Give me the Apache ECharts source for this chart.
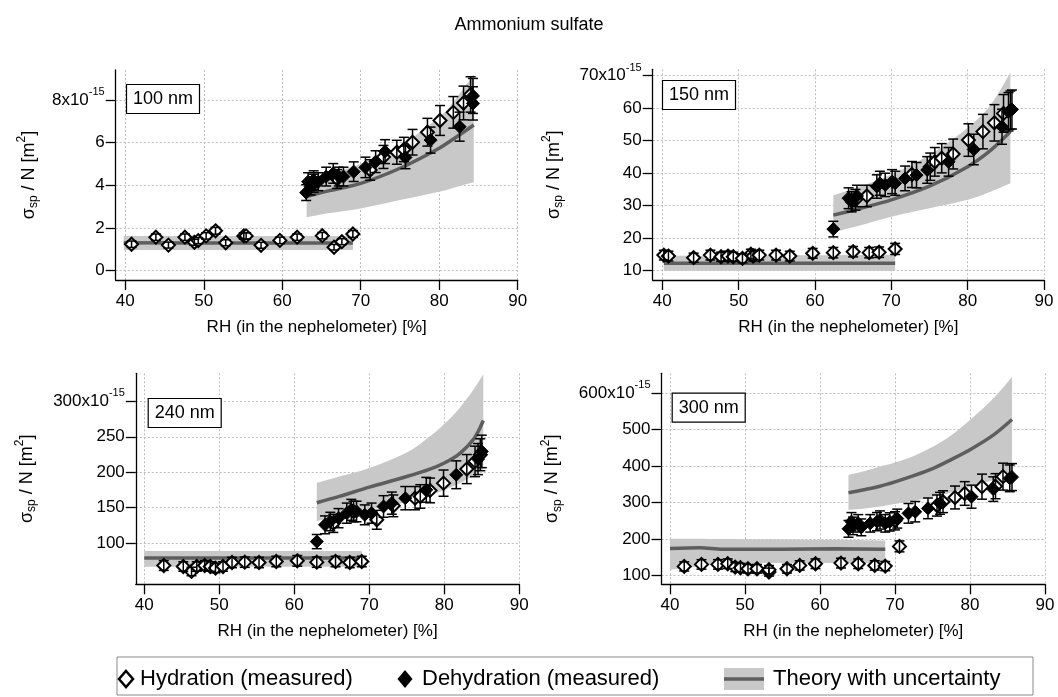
<!DOCTYPE html>
<html><head><meta charset="utf-8">
<script src="https://cdn.jsdelivr.net/npm/echarts@6/dist/echarts.min.js"></script>
<style>html,body{margin:0;padding:0;background:#fff}#c{width:1058px;height:697px}</style>
</head><body><div id="c"></div>
<script>
// ================= DATA =================
const xTicks = [40, 50, 60, 70, 80, 90];
const panelLabels = ['100 nm', '150 nm', '240 nm', '300 nm'];

// ---- 100 nm ----
const p100_yTicks = [0, 2, 4, 6, 8];
const p100_hydX = [40.8, 43.9, 45.5, 47.6, 48.8, 49.3, 50.3, 51.5, 52.8, 55.1, 55.4, 57.3, 59.7, 61.9, 65.1, 66.6, 67.6, 69.0, 64.0, 67.0, 71.2, 72.9, 74.6, 75.5, 76.6, 78.5, 80.1, 81.8, 83.1, 84.0];
const p100_hydY = [1.24, 1.57, 1.20, 1.57, 1.33, 1.41, 1.63, 1.87, 1.31, 1.63, 1.63, 1.19, 1.42, 1.57, 1.64, 1.10, 1.36, 1.72, 4.10, 4.30, 4.72, 5.33, 5.55, 5.68, 6.02, 6.49, 7.04, 7.42, 7.86, 8.26];
const p100_hydErr = [0.15, 0.15, 0.14, 0.15, 0.14, 0.14, 0.15, 0.16, 0.14, 0.15, 0.15, 0.14, 0.15, 0.15, 0.15, 0.13, 0.14, 0.16, 0.42, 0.44, 0.48, 0.54, 0.56, 0.57, 0.60, 0.65, 0.70, 0.74, 0.79, 0.83];
const p100_dehX = [63.05, 63.3, 63.6, 64.0, 64.6, 65.6, 66.5, 67.2, 67.8, 69.1, 70.6, 71.9, 73.1, 75.7, 78.9, 82.6, 84.3, 84.3];
const p100_dehY = [3.66, 4.17, 3.95, 4.25, 4.17, 4.41, 4.56, 4.41, 4.41, 4.64, 4.84, 5.11, 5.58, 5.31, 6.12, 6.75, 8.19, 7.84];
const p100_dehErr = [0.37, 0.42, 0.40, 0.43, 0.42, 0.44, 0.46, 0.44, 0.44, 0.46, 0.48, 0.51, 0.56, 0.53, 0.61, 0.68, 0.82, 0.78];
const p100_thLoX = [39.8, 55.0, 69.0];
const p100_thLoMid = [1.31, 1.30, 1.30];
const p100_thLoLow = [0.97, 0.97, 0.97];
const p100_thLoHigh = [1.63, 1.63, 1.63];
const p100_thHiX = [63.1, 66.0, 70.0, 75.0, 80.0, 82.0, 84.4];
const p100_thHiMid = [3.47, 3.75, 4.09, 4.80, 5.74, 6.22, 6.83];
const p100_thHiLow = [2.50, 2.70, 2.92, 3.31, 3.70, 3.90, 4.14];
const p100_thHiHigh = [4.25, 4.55, 5.00, 5.85, 7.20, 8.00, 9.20];

// ---- 150 nm ----
const p150_yTicks = [10, 20, 30, 40, 50, 60, 70];
const p150_hydX = [40.2, 40.8, 44.1, 46.3, 47.7, 48.6, 49.3, 50.5, 51.6, 51.9, 52.7, 54.9, 56.7, 59.7, 62.4, 65.0, 67.1, 68.4, 70.5, 65.3, 66.8, 72.7, 75.1, 75.7, 76.6, 78.1, 80.1, 82.0, 83.5, 84.7];
const p150_hydY = [14.8, 14.5, 14.0, 14.8, 14.3, 14.5, 14.3, 13.8, 15.1, 14.5, 14.8, 14.8, 14.5, 15.35, 15.55, 15.85, 15.55, 15.7, 16.7, 31.8, 33.0, 39.6, 42.0, 43.5, 44.6, 45.9, 50.2, 52.8, 55.5, 58.4];
const p150_hydErr = [1.5, 1.5, 1.4, 1.5, 1.4, 1.5, 1.4, 1.4, 1.5, 1.5, 1.5, 1.5, 1.5, 1.5, 1.6, 1.6, 1.6, 1.6, 1.7, 3.2, 3.3, 4.0, 4.2, 4.4, 4.5, 4.6, 5.0, 5.3, 5.6, 5.8];
const p150_dehX = [62.4, 64.4, 64.8, 65.5, 68.1, 68.5, 69.2, 70.1, 70.5, 71.8, 73.3, 74.7, 77.5, 80.8, 84.5, 85.35, 85.6, 85.8];
const p150_dehY = [22.8, 32.3, 31.2, 33.0, 35.9, 36.9, 36.4, 37.4, 36.9, 38.4, 39.4, 41.0, 43.5, 47.3, 54.3, 58.9, 59.4, 59.6];
const p150_dehErr = [2.4, 3.2, 3.1, 3.3, 3.6, 3.7, 3.6, 3.7, 3.7, 3.8, 3.9, 4.1, 4.4, 4.7, 5.4, 5.9, 5.9, 6.0];
const p150_thLoX = [40.2, 55.0, 70.5];
const p150_thLoMid = [12.3, 12.3, 12.3];
const p150_thLoLow = [10.0, 10.0, 10.0];
const p150_thLoHigh = [14.6, 14.7, 14.9];
const p150_thHiX = [62.4, 66.0, 70.0, 75.0, 80.0, 83.0, 85.6];
const p150_thHiMid = [27.1, 29.2, 31.8, 36.0, 42.0, 47.0, 52.8];
const p150_thHiLow = [21.8, 24.0, 26.6, 29.2, 31.8, 34.3, 36.9];
const p150_thHiHigh = [33.2, 36.0, 39.6, 45.6, 54.0, 61.0, 71.0];

// ---- 240 nm ----
const p240_yTicks = [100, 150, 200, 250, 300];
const p240_hydX = [42.6, 45.2, 46.3, 47.0, 48.05, 48.8, 49.5, 50.5, 51.7, 53.4, 55.3, 57.6, 60.4, 63.0, 65.5, 67.4, 69.0, 65.2, 67.9, 71.0, 73.2, 76.1, 76.8, 78.1, 79.9, 83.0, 84.1, 84.8];
const p240_hydY = [68.6, 67.2, 60.2, 67.2, 68.6, 67.2, 64.9, 67.2, 72.8, 73.3, 72.8, 74.2, 75.2, 73.3, 74.2, 72.8, 74.2, 128, 144.7, 133, 152.7, 163.5, 165.9, 174.4, 184.7, 204.5, 215.3, 224.7];
const p240_hydErr = [6.9, 6.7, 6.0, 6.7, 6.9, 6.7, 6.5, 6.7, 7.3, 7.3, 7.3, 7.4, 7.5, 7.3, 7.4, 7.3, 7.4, 12.8, 14.5, 13.3, 15.3, 16.4, 16.6, 17.4, 18.5, 20.5, 21.5, 22.5];
const p240_dehX = [63.0, 64.1, 64.8, 65.9, 67.0, 67.6, 68.3, 69.4, 70.3, 71.9, 73.0, 74.8, 77.6, 81.6, 84.5, 85.0];
const p240_dehY = [102.3, 125.9, 130.6, 135.3, 142.4, 147.1, 144.7, 140.0, 142.4, 151.8, 156.5, 163.5, 175.3, 196.5, 218.6, 229.4];
const p240_dehErr = [10, 12.6, 13, 13.5, 14.2, 14.7, 14.5, 14, 14.2, 15.2, 15.6, 16.4, 17.5, 19.6, 21.9, 22.9];
const p240_thLoX = [40.0, 55.0, 69.0];
const p240_thLoMid = [79, 79, 79];
const p240_thLoLow = [67, 67, 67];
const p240_thLoHigh = [89, 89, 89];
const p240_thHiX = [63.0, 66.0, 70.0, 75.0, 78.0, 80.0, 82.0, 84.0, 85.2];
const p240_thHiMid = [157, 166, 179, 194, 204, 213, 226, 248, 273];
const p240_thHiLow = [131, 138, 147, 158, 167, 175, 184, 196, 205];
const p240_thHiHigh = [185, 194, 206, 228, 250, 268, 290, 318, 338];

// ---- 300 nm ----
const p300_yTicks = [100, 200, 300, 400, 500, 600];
const p300_hydX = [41.9, 44.2, 46.4, 47.7, 48.7, 49.4, 50.4, 51.6, 53.2, 53.2, 55.6, 57.3, 59.4, 62.8, 65.1, 67.3, 68.7, 70.6, 70.0, 75.6, 76.4, 78.0, 79.3, 81.6, 83.4, 84.4];
const p300_hydY = [124.8, 130.3, 130.3, 132.1, 122.9, 121.1, 118.3, 118.3, 109.2, 115.6, 118.3, 127.5, 132.1, 133.9, 132.1, 127.5, 125.7, 179.8, 250, 292, 302.5, 314, 325, 343.7, 345, 371.2];
const p300_hydErr = [12.5, 13, 13, 13.2, 12.3, 12.1, 11.8, 11.8, 10.9, 11.6, 11.8, 12.8, 13.2, 13.4, 13.2, 12.8, 12.6, 15, 25, 29, 30, 31.4, 32.5, 34.4, 34.5, 37];
const p300_dehX = [63.8, 64.2, 64.4, 65.1, 65.5, 66.7, 67.6, 68.0, 68.7, 69.3, 70.3, 71.8, 72.7, 74.4, 76.0, 80.2, 83.1, 85.3, 85.6];
const p300_dehY = [228, 247.6, 236, 243, 232, 243, 247.6, 252.2, 243, 247, 256, 270.5, 275, 284.2, 298, 316.2, 337, 366.6, 370];
const p300_dehErr = [23, 25, 24, 24, 23, 24, 25, 25, 24, 25, 26, 27, 28, 28.4, 30, 31.6, 33.7, 36.7, 37];
const p300_thLoX = [40.0, 44.0, 47.0, 55.0, 62.0, 68.7];
const p300_thLoMid = [174, 176, 172, 172, 173, 172];
const p300_thLoLow = [115, 125, 132, 134, 134, 134];
const p300_thLoHigh = [201, 201, 200, 199, 198, 196];
const p300_thHiX = [63.8, 66.0, 68.0, 70.0, 72.5, 75.1, 77.5, 80.0, 83.1, 85.6];
const p300_thHiMid = [327, 336, 345, 357, 374, 394, 418, 445, 485, 528];
const p300_thHiLow = [280, 284, 289, 296, 305, 316, 328, 343, 362, 382];
const p300_thHiHigh = [376, 387, 399, 410, 428, 454, 485, 527, 586, 645];

// ================= LAYOUT / STYLE =================
const FONT = 'Liberation Sans, Arial, Helvetica, sans-serif';
const panels = [
  {grid: {left: 115.7, top: 70, width: 402, height: 210}, xmin: 38.78, ymin: -0.436, ymax: 9.405, yTicks: p100_yTicks, nameGap: 74,
   hyd: [p100_hydX, p100_hydY, p100_hydErr], deh: [p100_dehX, p100_dehY, p100_dehErr],
   thLo: [p100_thLoX, p100_thLoMid, p100_thLoLow, p100_thLoHigh], thHi: [p100_thHiX, p100_thHiMid, p100_thHiLow, p100_thHiHigh],
   label: {left: 126, top: 84}},
  {grid: {left: 652.7, top: 69.3, width: 391.3, height: 210.7}, xmin: 38.74, ymin: 7.14, ymax: 71.97, yTicks: p150_yTicks, nameGap: 86,
   hyd: [p150_hydX, p150_hydY, p150_hydErr], deh: [p150_dehX, p150_dehY, p150_dehErr],
   thLo: [p150_thLoX, p150_thLoMid, p150_thLoLow, p150_thLoHigh], thHi: [p150_thHiX, p150_thHiMid, p150_thHiLow, p150_thHiHigh],
   label: {left: 662, top: 80}},
  {grid: {left: 135.8, top: 373.3, width: 383.5, height: 211}, xmin: 38.87, ymin: 42.1, ymax: 339.5, yTicks: p240_yTicks, nameGap: 96,
   hyd: [p240_hydX, p240_hydY, p240_hydErr], deh: [p240_dehX, p240_dehY, p240_dehErr],
   thLo: [p240_thLoX, p240_thLoMid, p240_thLoLow, p240_thLoHigh], thHi: [p240_thHiX, p240_thHiMid, p240_thHiLow, p240_thHiHigh],
   label: {left: 147.7, top: 398}},
  {grid: {left: 661.5, top: 373.3, width: 383.5, height: 211}, xmin: 38.87, ymin: 75.7, ymax: 654.9, yTicks: p300_yTicks, nameGap: 96,
   hyd: [p300_hydX, p300_hydY, p300_hydErr], deh: [p300_dehX, p300_dehY, p300_dehErr],
   thLo: [p300_thLoX, p300_thLoMid, p300_thLoLow, p300_thLoHigh], thHi: [p300_thHiX, p300_thHiMid, p300_thHiLow, p300_thHiHigh],
   label: {left: 671.7, top: 392.7}}
];

const BAND = '#c8c8c8', LINE = '#5e5e5e';
const grids = [], xAxes = [], yAxes = [], series = [], titles = [];

titles.push({text: 'Ammonium sulfate', left: 'center', top: 11,
  textStyle: {fontFamily: FONT, fontSize: 18, fontWeight: 'normal', color: '#000'}});

const axisCommon = (ticks) => ({
  axisLine: {show: true, onZero: false, lineStyle: {color: '#000', width: 1.3}},
  axisTick: {show: true, inside: false, length: 10, customValues: ticks, lineStyle: {color: '#000', width: 1.3}},
  splitLine: {show: true, lineStyle: {color: '#bdbdbd', width: 1, type: [2, 2]}},
  minorTick: {show: false}
});

// smooth (Catmull-Rom) path through screen points
function curveThrough(pts, start) {
  let d = (start ? 'M' : 'L') + pts[0][0] + ',' + pts[0][1];
  for (let k = 0; k < pts.length - 1; k++) {
    const p0 = pts[Math.max(k - 1, 0)], p1 = pts[k], p2 = pts[k + 1], p3 = pts[Math.min(k + 2, pts.length - 1)];
    const c1 = [p1[0] + (p2[0] - p0[0]) / 6, p1[1] + (p2[1] - p0[1]) / 6];
    const c2 = [p2[0] - (p3[0] - p1[0]) / 6, p2[1] - (p3[1] - p1[1]) / 6];
    d += 'C' + c1[0] + ',' + c1[1] + ' ' + c2[0] + ',' + c2[1] + ' ' + p2[0] + ',' + p2[1];
  }
  return d;
}

function bandSeries(i, th) {
  const [xs, mid, lo, hi] = th;
  return {
    type: 'custom', xAxisIndex: i, yAxisIndex: i, z: 1, silent: true,
    data: xs.map((x, k) => [x, lo[k], hi[k]]),
    encode: {x: 0, y: [1, 2]},
    renderItem: (params, api) => {
      if (params.dataIndex !== 0) return null;
      const top = xs.map((x, k) => api.coord([x, hi[k]]));
      const bot = xs.map((x, k) => api.coord([x, lo[k]])).reverse();
      const d = curveThrough(top, true) + curveThrough(bot, false) + 'Z';
      return {type: 'path', shape: {pathData: d}, style: {fill: BAND, stroke: null}};
    }
  };
}

function midSeries(i, th) {
  const [xs, mid] = th;
  return {type: 'line', xAxisIndex: i, yAxisIndex: i, smooth: 0.3, symbol: 'none', silent: true, z: 2,
    lineStyle: {color: LINE, width: 3.5}, data: xs.map((x, k) => [x, mid[k]])};
}

function errSeries(i, arr, z) {
  const [xs, ys, es] = arr;
  return {
    type: 'custom', xAxisIndex: i, yAxisIndex: i, z: z, silent: true,
    data: xs.map((x, k) => [x, ys[k], es[k]]),
    encode: {x: 0, y: 1},
    renderItem: (params, api) => {
      const x = api.value(0), y = api.value(1), e = api.value(2);
      const t = api.coord([x, y + e]), b = api.coord([x, y - e]);
      const w = 5, st = {stroke: '#000', lineWidth: 1.5};
      return {type: 'group', children: [
        {type: 'line', shape: {x1: t[0], y1: t[1], x2: b[0], y2: b[1]}, style: st},
        {type: 'line', shape: {x1: t[0] - w, y1: t[1], x2: t[0] + w, y2: t[1]}, style: st},
        {type: 'line', shape: {x1: b[0] - w, y1: b[1], x2: b[0] + w, y2: b[1]}, style: st}
      ]};
    }
  };
}

panels.forEach((p, i) => {
  grids.push(Object.assign({containLabel: false}, p.grid));
  const topTick = p.yTicks[p.yTicks.length - 1];
  xAxes.push(Object.assign({
    type: 'value', gridIndex: i, min: p.xmin, max: 90,
    name: 'RH (in the nephelometer) [%]', nameLocation: 'middle', nameGap: 39,
    nameTextStyle: {fontFamily: FONT, fontSize: 17, color: '#000'},
    axisLabel: {customValues: xTicks, fontFamily: FONT, fontSize: 17, color: '#000', margin: 12.5}
  }, axisCommon(xTicks)));
  yAxes.push(Object.assign({
    type: 'value', gridIndex: i, min: p.ymin, max: p.ymax,
    name: '{t|σ}{sub|sp}{t| / N [m}{sup|2}{t|]}', nameLocation: 'middle', nameRotate: 90, nameGap: p.nameGap,
    nameTextStyle: {fontFamily: FONT, fontSize: 18, color: '#000', rich: {
      t: {fontFamily: FONT, fontSize: 18, color: '#000'},
      sub: {fontFamily: FONT, fontSize: 12, color: '#000', padding: [10, 0, 0, 0]},
      sup: {fontFamily: FONT, fontSize: 12, color: '#000', padding: [0, 0, 14, 0]}
    }},
    axisLabel: {customValues: p.yTicks, fontFamily: FONT, fontSize: 17, color: '#000', margin: 11,
      formatter: (v) => (v === topTick ? '{n|' + v + 'x10}{sup|-15}' : String(v)),
      rich: {
        n: {fontFamily: FONT, fontSize: 17, color: '#000'},
        sup: {fontFamily: FONT, fontSize: 11, color: '#000', padding: [0, 0, 16, 0]}
      }}
  }, axisCommon(p.yTicks)));

  series.push(bandSeries(i, p.thLo), bandSeries(i, p.thHi));
  series.push(midSeries(i, p.thLo), midSeries(i, p.thHi));
  series.push({type: 'scatter', xAxisIndex: i, yAxisIndex: i, symbol: 'diamond', symbolSize: 13, z: 3, silent: true,
    itemStyle: {color: '#fff', borderColor: '#000', borderWidth: 2, opacity: 1},
    data: p.hyd[0].map((x, k) => [x, p.hyd[1][k]])});
  series.push({type: 'scatter', xAxisIndex: i, yAxisIndex: i, symbol: 'diamond', symbolSize: 13, z: 4, silent: true,
    itemStyle: {color: '#000', borderColor: '#000', borderWidth: 1, opacity: 1},
    data: p.deh[0].map((x, k) => [x, p.deh[1][k]])});
  series.push(errSeries(i, p.hyd, 5));
  series.push(errSeries(i, p.deh, 5));

  titles.push({text: panelLabels[i], left: p.label.left, top: p.label.top,
    borderWidth: 1.2, borderColor: '#000', padding: [6, 7, 6, 7], backgroundColor: '#fff',
    textStyle: {fontFamily: FONT, fontSize: 18, fontWeight: 'normal', color: '#000'}});
});

// ---- Legend (framed key) ----
const LY = 679;
const legendGraphic = [
  {type: 'rect', shape: {x: 117, y: 657, width: 916, height: 38}, style: {fill: 'none', stroke: '#8a8a8a', lineWidth: 1}},
  {type: 'polygon', shape: {points: [[126, LY - 8], [133, LY], [126, LY + 8], [119, LY]]}, style: {fill: '#fff', stroke: '#000', lineWidth: 2.5}},
  {type: 'text', x: 140, y: LY, style: {text: 'Hydration (measured)', fontFamily: FONT, fontSize: 22, fill: '#000', verticalAlign: 'middle'}},
  {type: 'polygon', shape: {points: [[405, LY - 9], [412.5, LY], [405, LY + 9], [397.5, LY]]}, style: {fill: '#000'}},
  {type: 'text', x: 422, y: LY, style: {text: 'Dehydration (measured)', fontFamily: FONT, fontSize: 22, fill: '#000', verticalAlign: 'middle'}},
  {type: 'rect', shape: {x: 724, y: LY - 11, width: 40, height: 22}, style: {fill: BAND}},
  {type: 'line', shape: {x1: 724, y1: LY, x2: 764, y2: LY}, style: {stroke: LINE, lineWidth: 3.5}},
  {type: 'text', x: 773, y: LY, style: {text: 'Theory with uncertainty', fontFamily: FONT, fontSize: 22, fill: '#000', verticalAlign: 'middle'}}
];

const chart = echarts.init(document.getElementById('c'), null, {renderer: 'canvas'});
chart.setOption({
  animation: false,
  backgroundColor: '#fff',
  title: titles,
  grid: grids,
  xAxis: xAxes,
  yAxis: yAxes,
  series: series,
  graphic: legendGraphic
});
</script>
</body></html>
